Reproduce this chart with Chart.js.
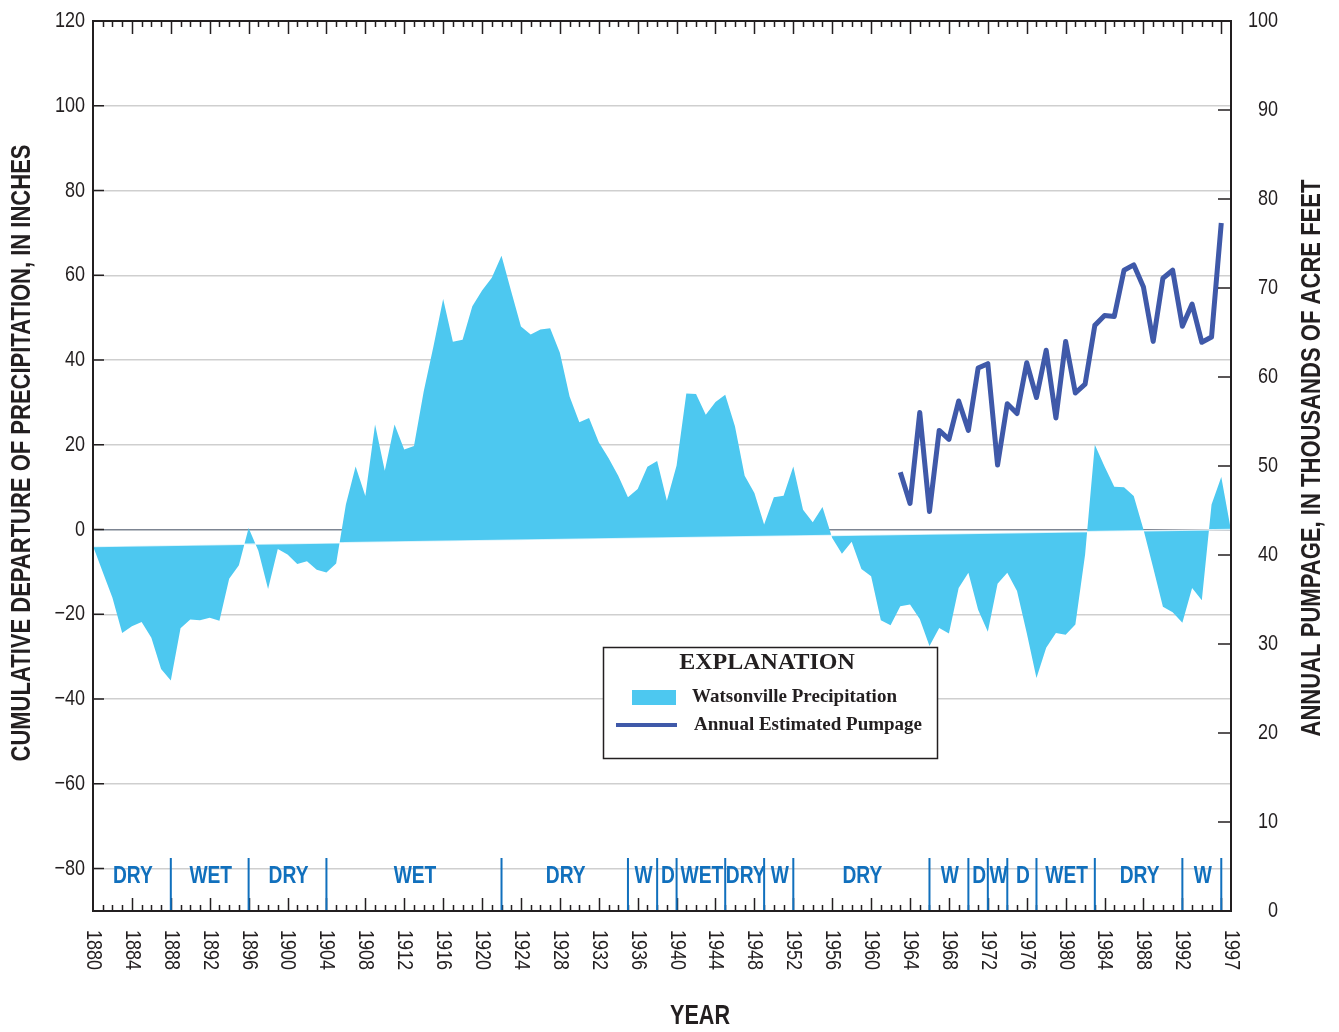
<!DOCTYPE html>
<html>
<head>
<meta charset="utf-8">
<script src="https://cdn.jsdelivr.net/npm/chart.js@4.4.0/dist/chart.umd.min.js"></script>
<style>
  html, body { margin: 0; padding: 0; background: #fff; }
</style>
</head>
<body>
<canvas id="precipChart" width="1339" height="1032"></canvas>
<script>
// cumulative departure of precipitation (inches), one value per year from 1880
const firstYear = 1880;
const lastYear = 1997;
const precipDeparture = [
  -3.9, -10, -16.1, -24.4, -22.8, -21.8, -25.5, -32.9, -35.6, -23.3,   // 1880s
  -21.2, -21.4, -20.8, -21.5, -11.6, -8.4, 0.4, -5, -14.0, -4.6,       // 1890s
  -5.9, -8.1, -7.5, -9.5, -10.1, -8.0, 5.9, 14.9, 7.9, 24.8,           // 1900s
  13.9, 24.8, 18.9, 19.7, 32.6, 43.2, 54.4, 44.3, 44.8, 52.7,          // 1910s
  56.4, 59.4, 64.6, 56.2, 47.9, 46.0, 47.2, 47.5, 41.7, 31.4,          // 1920s
  25.3, 26.3, 20.6, 16.9, 12.7, 7.6, 9.6, 14.8, 16.2, 6.8,             // 1930s
  15.1, 32.1, 32.0, 27.1, 30.1, 31.8, 24.4, 12.7, 8.6, 1.2,            // 1940s
  7.6, 8.0, 14.9, 4.7, 1.7, 5.3, -2.0, -5.7, -2.9, -9.3,               // 1950s
  -11.0, -21.4, -22.6, -18.1, -17.7, -21.1, -27.5, -23.2, -24.5, -13.8, // 1960s
  -10.2, -18.9, -24.1, -12.8, -10.2, -14.5, -24.4, -35.0, -27.9, -24.4, // 1970s
  -24.8, -22.4, -5.9, 20.0, 14.9, 10.1, 10.0, 7.9, 0.0, -9.0,          // 1980s
  -18.2, -19.5, -22.0, -13.8, -16.7, 5.9, 12.4, -0.2                   // 1990-1997
];
// sloping reference line the departure is filled against
const departureBaseline = [[1880, -4], [1997, 0]];

// annual estimated pumpage (thousands of acre feet) from 1963
const firstPumpYear = 1963;
const annualPumpage = [
  49.3, 45.8, 56.0, 44.9, 54.0, 53.0, 57.3, 54.0, 61.0, 61.5,
  50.1, 57.0, 55.9, 61.6, 57.7, 63.0, 55.4, 64.0, 58.2, 59.2,
  65.8, 66.9, 66.8, 72.0, 72.6, 70.1, 64.0, 71.1, 72.0, 65.7,
  68.2, 63.9, 64.5, 77.3
];

// dry / wet periods
const periodBreaks = [1880, 1888, 1896, 1904, 1922, 1935, 1938, 1940, 1945, 1949, 1952, 1966, 1970, 1972, 1974, 1977, 1983, 1992, 1996];
const periodLabels = ['DRY', 'WET', 'DRY', 'WET', 'DRY', 'W', 'D', 'WET', 'DRY', 'W', 'DRY', 'W', 'D', 'W', 'D', 'WET', 'DRY', 'W'];

const yearTicks = [1880, 1884, 1888, 1892, 1896, 1900, 1904, 1908, 1912, 1916, 1920, 1924, 1928, 1932, 1936, 1940, 1944, 1948, 1952, 1956, 1960, 1964, 1968, 1972, 1976, 1980, 1984, 1988, 1992, 1997];
const leftTicks = [-80, -60, -40, -20, 0, 20, 40, 60, 80, 100, 120];
const rightTicks = [0, 10, 20, 30, 40, 50, 60, 70, 80, 90, 100];

const precipColor = '#4dc8f0';
const pumpColor = '#3f59a9';
const periodColor = '#1170bd';
const inkColor = '#231f20';
const sans = '"Liberation Sans", Arial, sans-serif';
const serif = '"Liberation Serif", "DejaVu Serif", serif';

const precipPoints = precipDeparture.map((v, i) => ({ x: firstYear + i, y: v }));
const pumpPoints = annualPumpage.map((v, i) => ({ x: firstPumpYear + i, y: v }));
const basePoints = departureBaseline.map(p => ({ x: p[0], y: p[1] }));

// condensed text: squeeze a normal sans along the reading direction
function narrowText(ctx, text, x, y, o) {
  ctx.save();
  ctx.translate(x, y);
  if (o.rotate) ctx.rotate(o.rotate);
  ctx.font = o.font;
  let sx = o.sx || 0.82;
  if (o.fitWidth) sx = o.fitWidth / ctx.measureText(text).width;
  ctx.scale(sx, 1);
  ctx.fillStyle = o.color || inkColor;
  ctx.textAlign = o.align || 'center';
  ctx.textBaseline = o.baseline || 'middle';
  ctx.fillText(text, 0, 0);
  ctx.restore();
}

const decorations = {
  id: 'decorations',
  afterDraw(chart) {
    const ctx = chart.ctx;
    const ca = chart.chartArea;
    const xs = chart.scales.x, yl = chart.scales.y, yr = chart.scales.y2;
    ctx.save();

    // tick marks pointing into the plot
    ctx.strokeStyle = inkColor;
    ctx.lineWidth = 1.5;
    ctx.beginPath();
    for (let yrv = firstYear + 1; yrv < lastYear; yrv++) {
      const px = Math.round(xs.getPixelForValue(yrv)) + 0.5;
      const len = (yrv - firstYear) % 4 === 0 ? 13 : 6;
      ctx.moveTo(px, ca.bottom); ctx.lineTo(px, ca.bottom - len);
      ctx.moveTo(px, ca.top); ctx.lineTo(px, ca.top + len);
    }
    leftTicks.forEach(v => {
      const py = yl.getPixelForValue(v);
      ctx.moveTo(ca.left, py); ctx.lineTo(ca.left + 11, py);
    });
    rightTicks.forEach(v => {
      const py = yr.getPixelForValue(v);
      ctx.moveTo(ca.right, py); ctx.lineTo(ca.right - 13, py);
    });
    ctx.stroke();

    // period separators and labels
    ctx.strokeStyle = periodColor;
    ctx.lineWidth = 2;
    ctx.beginPath();
    periodBreaks.slice(1).forEach(b => {
      const px = xs.getPixelForValue(b);
      ctx.moveTo(px, ca.bottom - 53); ctx.lineTo(px, ca.bottom);
    });
    ctx.stroke();
    periodLabels.forEach((lab, i) => {
      const cx = (xs.getPixelForValue(periodBreaks[i]) + xs.getPixelForValue(periodBreaks[i + 1])) / 2;
      narrowText(ctx, lab, cx + 1, ca.bottom - 35, { font: 'bold 24px ' + sans, color: periodColor, sx: 0.8 });
    });

    // frame
    ctx.strokeStyle = inkColor;
    ctx.lineWidth = 2;
    ctx.strokeRect(ca.left, ca.top, ca.right - ca.left, ca.bottom - ca.top);

    // tick labels
    leftTicks.forEach(v => {
      const txt = v < 0 ? '\u2212' + Math.abs(v) : String(v);
      narrowText(ctx, txt, ca.left - 8, yl.getPixelForValue(v), { font: '22px ' + sans, align: 'right' });
    });
    rightTicks.forEach(v => {
      narrowText(ctx, String(v), ca.right + 47, yr.getPixelForValue(v), { font: '22px ' + sans, align: 'right' });
    });
    yearTicks.forEach(t => {
      narrowText(ctx, String(t), xs.getPixelForValue(t), ca.bottom + 19,
        { font: '22px ' + sans, align: 'left', rotate: Math.PI / 2 });
    });

    // axis titles
    narrowText(ctx, 'YEAR', 700, 1016, { font: 'bold 28px ' + sans, fitWidth: 60 });
    narrowText(ctx, 'CUMULATIVE DEPARTURE OF PRECIPITATION, IN INCHES', 22, 453,
      { font: 'bold 28px ' + sans, rotate: -Math.PI / 2, fitWidth: 617 });
    narrowText(ctx, 'ANNUAL PUMPAGE, IN THOUSANDS OF ACRE FEET', 1312, 458,
      { font: 'bold 28px ' + sans, rotate: -Math.PI / 2, fitWidth: 557 });

    // explanation box
    ctx.fillStyle = '#fff';
    ctx.fillRect(603, 647, 334, 111);
    ctx.strokeStyle = inkColor;
    ctx.lineWidth = 1.5;
    ctx.strokeRect(603.5, 647.5, 334, 111);
    ctx.fillStyle = inkColor;
    ctx.font = 'bold 24px ' + serif;
    ctx.textAlign = 'center';
    ctx.textBaseline = 'middle';
    ctx.fillText('EXPLANATION', 767, 663);
    ctx.fillStyle = precipColor;
    ctx.fillRect(632, 690, 44, 15);
    ctx.strokeStyle = pumpColor;
    ctx.lineWidth = 4;
    ctx.beginPath();
    ctx.moveTo(616, 725); ctx.lineTo(677, 725);
    ctx.stroke();
    ctx.fillStyle = inkColor;
    ctx.font = 'bold 19px ' + serif;
    ctx.textAlign = 'left';
    ctx.fillText('Watsonville Precipitation', 692, 697);
    ctx.fillText('Annual Estimated Pumpage', 694, 725);

    ctx.restore();
  }
};

const ctx = document.getElementById('precipChart').getContext('2d');
const precipChart = new Chart(ctx, {
  type: 'line',
  data: {
    datasets: [
      {
        label: 'baseline',
        data: basePoints,
        yAxisID: 'y',
        borderColor: 'rgba(255,255,255,0.75)',
        borderWidth: 1.5,
        pointRadius: 0,
        fill: false,
        order: 1
      },
      {
        label: 'Watsonville Precipitation',
        data: precipPoints,
        yAxisID: 'y',
        borderColor: 'rgba(0,0,0,0)',
        borderWidth: 1,
        backgroundColor: precipColor,
        pointRadius: 0,
        fill: '-1',
        order: 2
      },
      {
        label: 'Annual Estimated Pumpage',
        data: pumpPoints,
        yAxisID: 'y2',
        borderColor: pumpColor,
        borderWidth: 5,
        borderJoinStyle: 'round',
        pointRadius: 0,
        fill: false,
        order: 0
      }
    ]
  },
  options: {
    responsive: false,
    animation: false,
    layout: { padding: { top: 21, left: 0, right: 0, bottom: 0 } },
    plugins: {
      legend: { display: false },
      tooltip: { enabled: false }
    },
    scales: {
      x: {
        type: 'linear',
        min: firstYear,
        max: lastYear,
        ticks: { display: false },
        grid: { display: false },
        border: { display: false },
        afterFit(scale) { scale.height = 121; }
      },
      y: {
        position: 'left',
        min: -90,
        max: 120,
        afterBuildTicks(scale) { scale.ticks = leftTicks.map(v => ({ value: v })); },
        ticks: { display: false },
        grid: {
          drawTicks: false,
          lineWidth: 1.5,
          color: c => (c.tick && c.tick.value === 0 ? '#7d8592' : '#cfcfcf')
        },
        border: { display: false },
        afterFit(scale) { scale.width = 93; }
      },
      y2: {
        position: 'right',
        min: 0,
        max: 100,
        afterBuildTicks(scale) { scale.ticks = rightTicks.map(v => ({ value: v })); },
        ticks: { display: false },
        grid: { display: false, drawTicks: false },
        border: { display: false },
        afterFit(scale) { scale.width = 108; }
      }
    }
  },
  plugins: [decorations]
});
</script>
</body>
</html>
